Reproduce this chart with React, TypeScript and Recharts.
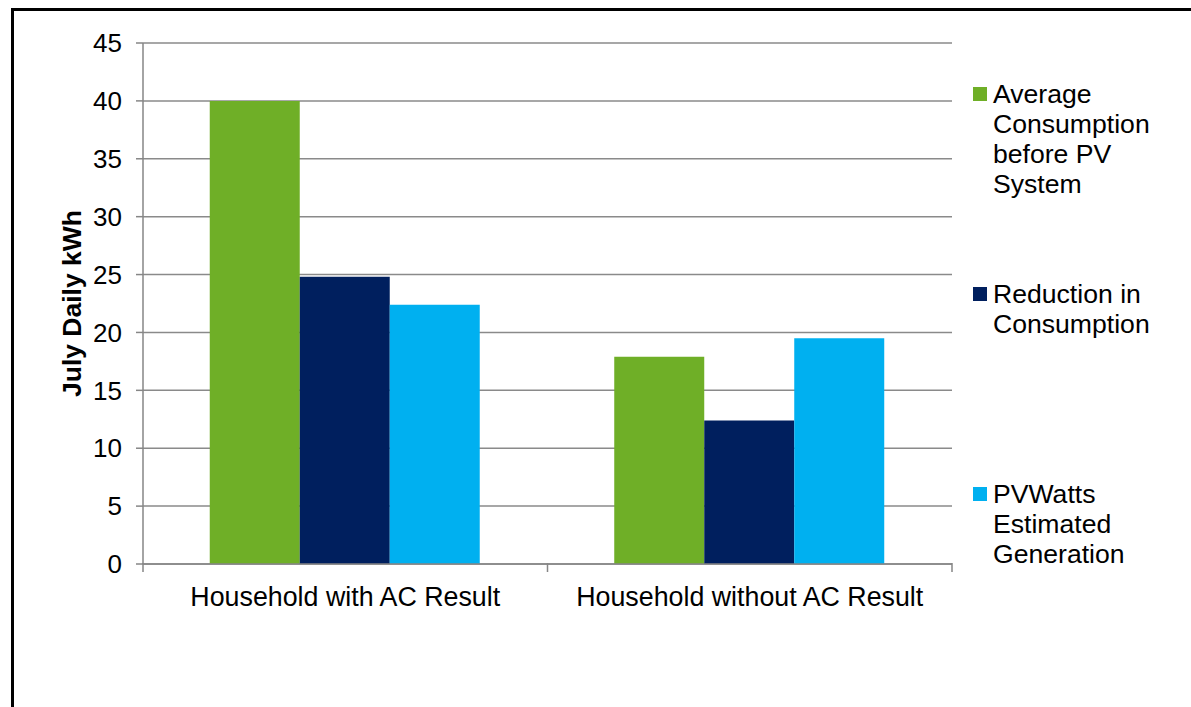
import { BarChart, Bar, XAxis, YAxis, CartesianGrid } from 'recharts';

// July daily kWh per household type
const categories = ['Household with AC Result', 'Household without AC Result'];
const avgConsumption = [40, 17.9];
const reduction = [24.8, 12.4];
const pvWattsGeneration = [22.4, 19.5];

const yTicks = [0, 5, 10, 15, 20, 25, 30, 35, 40, 45];

const series = [
  { key: 'avg', name: 'Average Consumption before PV System', color: '#6FAF27' },
  { key: 'reduction', name: 'Reduction in Consumption', color: '#001F5E' },
  { key: 'pv', name: 'PVWatts Estimated Generation', color: '#00B0F0' },
];

const data = categories.map((category, i) => ({
  category,
  avg: avgConsumption[i],
  reduction: reduction[i],
  pv: pvWattsGeneration[i],
}));

const FONT = '"Liberation Sans", Arial, sans-serif';
const AXIS_GRAY = '#868686';

// Category label plus tick marks on the group boundaries (left edge of each band,
// and the right edge of the last one).
function CategoryTick(props: any) {
  const { x, y, payload, index, visibleTicksCount } = props;
  const half = payload.offset || 0;
  const isLast = index === visibleTicksCount - 1;
  return (
    <g>
      <line x1={x - half} x2={x - half} y1={y - 24} y2={y - 15} stroke={AXIS_GRAY} strokeWidth={1.5} />
      {isLast && (
        <line x1={x + half} x2={x + half} y1={y - 24} y2={y - 15} stroke={AXIS_GRAY} strokeWidth={1.5} />
      )}
      <text
        x={x}
        y={y}
        dy="0.71em"
        textAnchor="middle"
        fill="#000"
        fontSize={26.8}
        fontFamily={FONT}
      >
        {payload.value}
      </text>
    </g>
  );
}

function LegendBox() {
  return (
    <div
      style={{
        position: 'absolute',
        left: 973,
        top: 79,
        width: 218,
        fontFamily: FONT,
        fontSize: 26.6,
        lineHeight: '30px',
        color: '#000',
      }}
    >
      {series.map((s) => (
        <div key={s.key} style={{ height: 200, display: 'flex', alignItems: 'flex-start' }}>
          <div
            style={{
              width: 14,
              height: 14,
              marginTop: 8,
              marginRight: 6,
              background: s.color,
              flex: 'none',
            }}
          />
          <div style={{ width: 185 }}>{s.name}</div>
        </div>
      ))}
    </div>
  );
}

export default function App() {
  return (
    <div
      style={{
        position: 'fixed',
        left: 0,
        top: 0,
        width: 1191,
        height: 707,
        overflow: 'hidden',
        background: '#fff',
      }}
    >
      <div
        style={{
          position: 'absolute',
          left: 11,
          top: 8,
          width: 1200,
          height: 720,
          border: '3px solid #000',
        }}
      />
      <BarChart
        width={1191}
        height={707}
        data={data}
        margin={{ top: 43, right: 239, left: 0, bottom: 103 }}
        barCategoryGap="16.5%"
        barGap={0}
      >
        <CartesianGrid vertical={false} stroke="#8a8a8a" strokeWidth={1.5} />
        <XAxis
          dataKey="category"
          tickLine={false}
          tickSize={0}
          tickMargin={23}
          height={40}
          stroke={AXIS_GRAY}
          strokeWidth={1.5}
          tick={CategoryTick}
        />
        <YAxis
          width={143}
          domain={[0, 45]}
          ticks={yTicks}
          interval={0}
          tickSize={7}
          tickMargin={14}
          stroke={AXIS_GRAY}
          strokeWidth={1.5}
          tick={{ fill: '#000', fontSize: 26, fontFamily: FONT }}
          label={{
            value: 'July Daily kWh',
            angle: -90,
            position: 'center',
            fill: '#000',
            fontSize: 26.5,
            fontWeight: 'bold',
            fontFamily: FONT,
          }}
        />
        {series.map((s) => (
          <Bar
            key={s.key}
            dataKey={s.key}
            name={s.name}
            fill={s.color}
            isAnimationActive={false}
          />
        ))}
      </BarChart>
      <LegendBox />
    </div>
  );
}
